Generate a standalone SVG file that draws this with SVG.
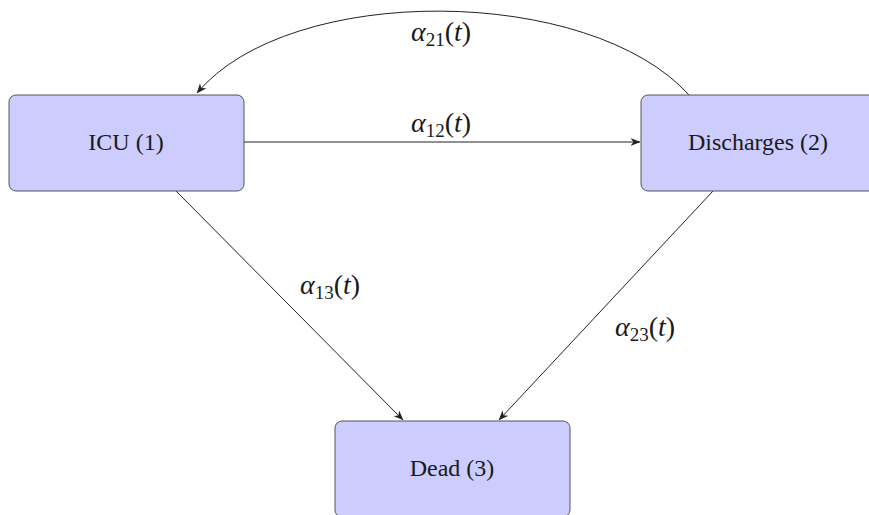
<svg xmlns="http://www.w3.org/2000/svg" width="869" height="515" viewBox="0 0 869 515">
  <style>
    .node rect { fill: #ccccff; stroke: #555555; stroke-width: 1; }
    .node text { font-family: 'Liberation Serif', 'Times New Roman', 'DejaVu Serif', serif; font-size: 24px; fill: #1a1a1a; text-anchor: middle; }
    .edge { fill: none; stroke: #222222; stroke-width: 1; marker-end: url(#arrow); }
    .lbl { font-family: 'Liberation Serif', 'Times New Roman', 'DejaVu Serif', serif; font-size: 28px; fill: #1a1a1a; font-style: italic; text-anchor: middle; }
    .lbl .sub { font-style: normal; font-size: 19px; }
    .lbl .up { font-style: normal; }
  </style>
  <defs>
    <marker id="arrow" viewBox="0 0 10 8" refX="9.5" refY="4" markerWidth="10" markerHeight="8" markerUnits="userSpaceOnUse" orient="auto">
      <path d="M0,0 L10,4 L0,8 L3,4 Z" fill="#222222"/>
    </marker>
  </defs>

  <g id="edges">
    <path class="edge" d="M689,95 C590,-15 290,-18 197,93"/>
    <path class="edge" d="M244,142 L640,142"/>
    <path class="edge" d="M176,191 L403,420"/>
    <path class="edge" d="M713,191 L499,420"/>
    <text class="lbl" x="441" y="41">α<tspan class="sub" dy="5">21</tspan><tspan class="up" dy="-5">(</tspan>t<tspan class="up">)</tspan></text>
    <text class="lbl" x="441" y="132">α<tspan class="sub" dy="5">12</tspan><tspan class="up" dy="-5">(</tspan>t<tspan class="up">)</tspan></text>
    <text class="lbl" x="330" y="294">α<tspan class="sub" dy="5">13</tspan><tspan class="up" dy="-5">(</tspan>t<tspan class="up">)</tspan></text>
    <text class="lbl" x="645" y="336">α<tspan class="sub" dy="5">23</tspan><tspan class="up" dy="-5">(</tspan>t<tspan class="up">)</tspan></text>
  </g>

  <g id="icu" class="node">
    <rect x="9" y="95" width="235" height="96" rx="7"/>
    <text x="126" y="150">ICU (1)</text>
  </g>
  <g id="discharges" class="node">
    <rect x="641" y="95" width="235" height="96" rx="7"/>
    <text x="758" y="150">Discharges (2)</text>
  </g>
  <g id="dead" class="node">
    <rect x="335" y="421" width="235" height="96" rx="7"/>
    <text x="452" y="476">Dead (3)</text>
  </g>
</svg>
